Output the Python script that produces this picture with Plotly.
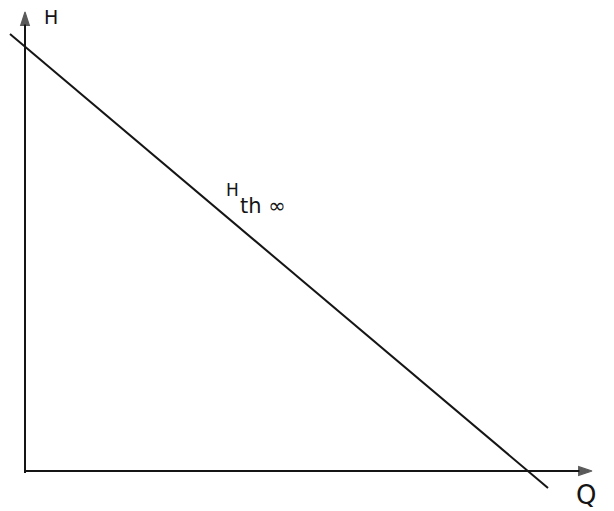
import plotly.graph_objects as go

# Theoretical head curve H_th∞ (straight line, falling with flow rate)
q_line = [-15, 523]
h_line = [437, -17]

# Axis extents (tips of the arrows)
q_axis_end = 567
h_axis_end = 459

ink = "#151515"

fig = go.Figure()

fig.add_trace(go.Scatter(
    x=q_line, y=h_line, mode="lines",
    line=dict(color=ink, width=2), hoverinfo="skip", showlegend=False,
))

# Axes drawn as lines ending in arrowheads
for xs, ys in (([0, q_axis_end], [0, 0]), ([0, 0], [-2, h_axis_end])):
    fig.add_trace(go.Scatter(
        x=xs, y=ys, mode="lines+markers",
        line=dict(color=ink, width=2),
        marker=dict(symbol=["circle", "arrow"], size=[0, 14], color=ink,
                    angleref="previous", line=dict(width=1.2, color=ink)),
        hoverinfo="skip", showlegend=False,
    ))

font = dict(family="DejaVu Sans", color=ink)

fig.add_annotation(x=26, y=454, text="H", showarrow=False,
                   font=dict(size=19, **font), xanchor="center", yanchor="middle")
fig.add_annotation(x=561, y=-24, text="Q", showarrow=False,
                   font=dict(size=26, **font), xanchor="center", yanchor="middle")
# curve label: H with subscript "th ∞"
fig.add_annotation(x=207, y=281, text="H", showarrow=False,
                   font=dict(size=17, **font), xanchor="center", yanchor="middle")
fig.add_annotation(x=213, y=265, text="th ∞", showarrow=False,
                   font=dict(size=21, **font), xanchor="left", yanchor="middle")

fig.update_layout(
    width=614, height=511,
    margin=dict(l=0, r=0, t=0, b=0),
    paper_bgcolor="white", plot_bgcolor="white",
    xaxis=dict(range=[-25, 589], visible=False, fixedrange=True),
    yaxis=dict(range=[-40, 471], visible=False, fixedrange=True),
)

fig.write_html("out.html")
